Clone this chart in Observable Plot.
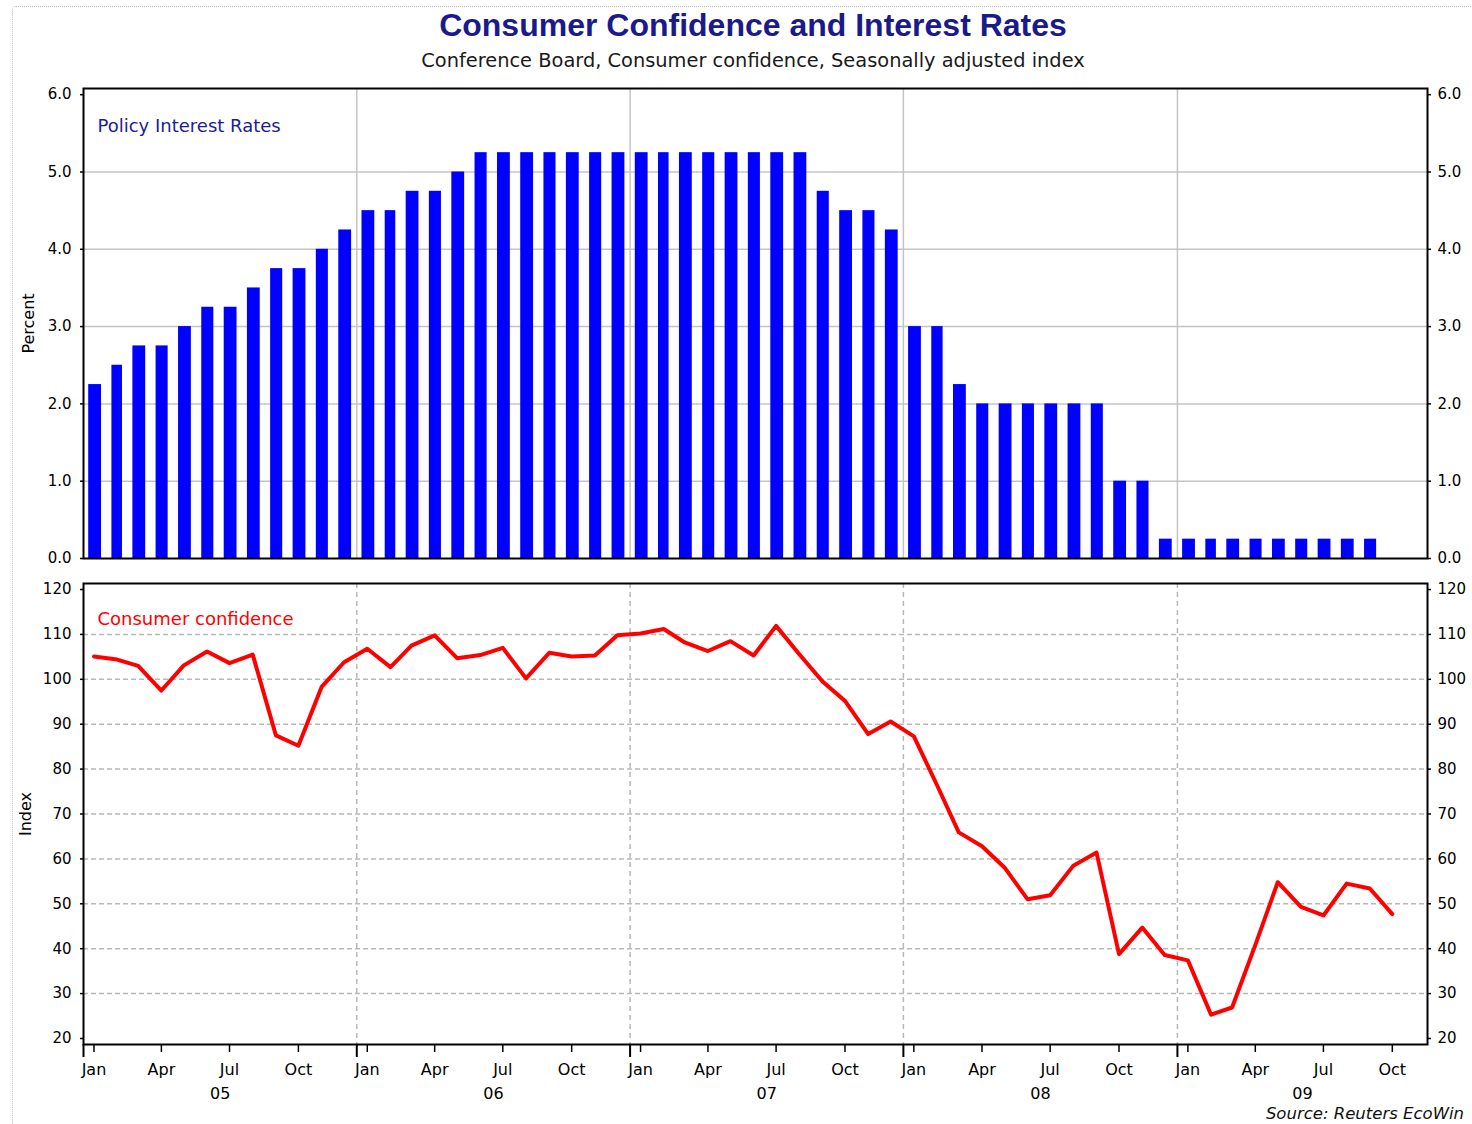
<!DOCTYPE html>
<html>
<head>
<meta charset="utf-8">
<script src="https://cdn.jsdelivr.net/npm/d3@7"></script>
<script src="https://cdn.jsdelivr.net/npm/@observablehq/plot@0.6"></script>
<style>
  html, body { margin: 0; padding: 0; background: #fff; overflow: hidden; }
  #wrap { position: relative; width: 1472px; height: 1124px; font-family: "DejaVu Sans", sans-serif; overflow: hidden; }
  #border { position: absolute; left: 12px; top: 6px; width: 1500px; height: 1200px; border: 1px dotted #bdbdbd; border-radius: 4px; }
  #title { position: absolute; left: 17px; width: 1472px; top: 7px; line-height: 36px; text-align: center;
           font-family: "Liberation Sans", sans-serif; font-weight: bold; font-size: 32px; color: #1a1a8c; }
  #subtitle { position: absolute; left: 17px; width: 1472px; top: 48px; line-height: 26px; text-align: center;
              font-size: 19.4px; color: #1a1a1a; }
  #top { position: absolute; left: 0; top: 80px; }
  #bottom { position: absolute; left: 0; top: 575px; }
  #source { position: absolute; right: 8px; top: 1104px; font-size: 16.5px; font-style: italic; color: #111; }
</style>
</head>
<body>
<div id="wrap">
  <div id="border"></div>
  <div id="title">Consumer Confidence and Interest Rates</div>
  <div id="subtitle">Conference Board, Consumer confidence, Seasonally adjusted index</div>
  <div id="top"></div>
  <div id="bottom"></div>
  <div id="source">Source: Reuters EcoWin</div>
</div>
<script>
// ---- data (monthly, starting January 2005) ----
const firstMonth = "2005-01-01";
const policyRate = [
  2.25, 2.5, 2.75, 2.75, 3.0, 3.25, 3.25, 3.5, 3.75, 3.75, 4.0, 4.25,
  4.5, 4.5, 4.75, 4.75, 5.0, 5.25, 5.25, 5.25, 5.25, 5.25, 5.25, 5.25,
  5.25, 5.25, 5.25, 5.25, 5.25, 5.25, 5.25, 5.25, 4.75, 4.5, 4.5, 4.25,
  3.0, 3.0, 2.25, 2.0, 2.0, 2.0, 2.0, 2.0, 2.0, 1.0, 1.0, 0.25,
  0.25, 0.25, 0.25, 0.25, 0.25, 0.25, 0.25, 0.25, 0.25
];
const confidence = [
  105.1, 104.4, 103.0, 97.5, 103.1, 106.2, 103.6, 105.5, 87.5, 85.2, 98.3, 103.8,
  106.8, 102.7, 107.5, 109.8, 104.7, 105.4, 107.0, 100.2, 105.9, 105.1, 105.3, 109.8,
  110.2, 111.2, 108.2, 106.3, 108.5, 105.3, 111.9, 105.6, 99.5, 95.2, 87.8, 90.6,
  87.3, 76.4, 65.9, 62.8, 58.1, 51.0, 51.9, 58.5, 61.4, 38.8, 44.7, 38.6,
  37.4, 25.3, 26.9, 40.8, 54.8, 49.3, 47.4, 54.5, 53.4, 47.7
];
const monthTickLabels = ["Jan", "Apr", "Jul", "Oct"];
const yearTickLabels = ["05", "06", "07", "08", "09"];
const rateTicks = [0, 1, 2, 3, 4, 5, 6];
const indexTicks = [20, 30, 40, 50, 60, 70, 80, 90, 100, 110, 120];
const lastMonthShown = "2009-12-01";

// ---- derived tables ----
const start = new Date(firstMonth + "T00:00:00Z");
const end = new Date(lastMonthShown + "T00:00:00Z");
const monthDate = i => d3.utcMonth.offset(start, i);
const rateData = policyRate.map((v, i) => ({month: monthDate(i), rate: v}));
const confData = confidence.map((v, i) => ({date: d3.utcDay.offset(monthDate(i), 14), value: v}));
const xDomain = [start, end];
const yearStarts = yearTickLabels.map((_, i) => d3.utcYear.offset(start, i));
const gridYears = yearStarts.slice(1);
// year labels centred on the visible part of each year
const yearMids = yearStarts.map(d => {
  const e = Math.min(+d3.utcYear.offset(d, 1), +end);
  return new Date((+d + e) / 2);
});
const quarterTicks = d3.range(0, confidence.length, 3).map(i => d3.utcDay.offset(monthDate(i), 14));
const qFmt = d => monthTickLabels[Math.floor(d.getUTCMonth() / 3)];
const yFmt = d => yearTickLabels[d.getUTCFullYear() - start.getUTCFullYear()];

const baseStyle = {fontFamily: "DejaVu Sans, sans-serif", fontSize: "15px", color: "#000", background: "transparent", overflow: "visible"};

const topPlot = Plot.plot({
  width: 1472, height: 490,
  marginLeft: 83, marginRight: 45, marginTop: 8, marginBottom: 12,
  style: baseStyle,
  x: {type: "utc", domain: xDomain, axis: null},
  y: {domain: [0, 6.08], axis: null},
  marks: [
    Plot.gridY([1, 2, 3, 4, 5], {stroke: "#c4c4c4", strokeOpacity: 1, strokeWidth: 1.5}),
    Plot.gridX(gridYears, {stroke: "#c4c4c4", strokeOpacity: 1, strokeWidth: 1.5}),
    Plot.rectY(rateData, {x: "month", y: "rate", interval: "month", fill: "#0000ff", insetLeft: 5.2, insetRight: 5.2}),
    Plot.axisY(rateTicks, {anchor: "left", tickSize: 3, tickPadding: 9, tickFormat: d3.format(".1f"), label: null, strokeWidth: 1.5}),
    Plot.axisY(rateTicks, {anchor: "right", tickSize: 3, tickPadding: 7, tickFormat: d3.format(".1f"), label: null, strokeWidth: 1.5}),
    Plot.text(["Policy Interest Rates"], {frameAnchor: "top-left", dx: 14, dy: 38, textAnchor: "start", lineAnchor: "middle", fill: "#1c1c96", fontSize: 18}),
    Plot.text(["Percent"], {frameAnchor: "left", dx: -55, rotate: -90, textAnchor: "middle", lineAnchor: "middle", fontSize: 16, fill: "#000"}),
    Plot.frame({stroke: "#000", strokeWidth: 2})
  ]
});
document.getElementById("top").appendChild(topPlot);

const bottomPlot = Plot.plot({
  width: 1472, height: 530,
  marginLeft: 83, marginRight: 45, marginTop: 8, marginBottom: 61,
  style: baseStyle,
  x: {type: "utc", domain: xDomain, axis: null},
  y: {domain: [18.66, 121.34], axis: null},
  marks: [
    Plot.gridY(indexTicks.slice(1, -1), {stroke: "#b8b8b8", strokeOpacity: 1, strokeWidth: 1.5, strokeDasharray: "5,3"}),
    Plot.gridX(gridYears, {stroke: "#b8b8b8", strokeOpacity: 1, strokeWidth: 1.5, strokeDasharray: "5,4"}),
    Plot.lineY(confData, {x: "date", y: "value", stroke: "#ff0000", strokeWidth: 4}),
    Plot.axisY(indexTicks, {anchor: "left", tickSize: 3, tickPadding: 9, label: null, strokeWidth: 1.5}),
    Plot.axisY(indexTicks, {anchor: "right", tickSize: 3, tickPadding: 7, label: null, strokeWidth: 1.5}),
    Plot.axisX(quarterTicks, {anchor: "bottom", tickSize: 8, tickPadding: 11, tickFormat: qFmt, fontSize: 16, label: null, strokeWidth: 1.5}),
    Plot.axisX(yearStarts, {anchor: "bottom", tickSize: 13, tickFormat: () => "", label: null, strokeWidth: 2}),
    Plot.axisX(yearMids, {anchor: "bottom", tickSize: 0, tickPadding: 43, tickFormat: yFmt, fontSize: 16, label: null}),
    Plot.text(["Consumer confidence"], {frameAnchor: "top-left", dx: 14, dy: 36, textAnchor: "start", lineAnchor: "middle", fill: "#ff0000", fontSize: 18}),
    Plot.text(["Index"], {frameAnchor: "left", dx: -58, rotate: -90, textAnchor: "middle", lineAnchor: "middle", fontSize: 16, fill: "#000"}),
    Plot.frame({stroke: "#000", strokeWidth: 2})
  ]
});
document.getElementById("bottom").appendChild(bottomPlot);
</script>
</body>
</html>
